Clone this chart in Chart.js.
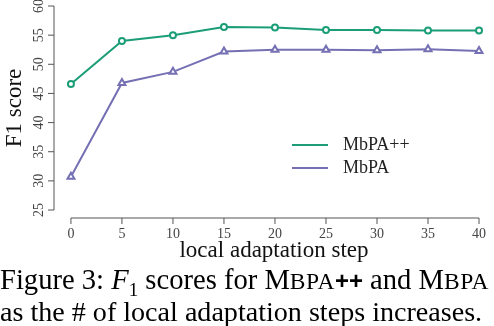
<!DOCTYPE html>
<html>
<head>
<meta charset="utf-8">
<script src="https://cdn.jsdelivr.net/npm/chart.js@4/dist/chart.umd.min.js"></script>
<style>
  body { margin: 0; background: #fff; }
  #wrap { position: relative; width: 494px; height: 326px; overflow: hidden; }
  #chart { position: absolute; left: 0; top: 0; }
  .cap { position: absolute; left: 0; font-family: "Liberation Serif", "Times New Roman", serif; font-size: 28.6px; line-height: 28px; color: #000; white-space: nowrap; }
  .sc { font-size: 23.5px; letter-spacing: 0.5px; }
  .pp { font-family: "Liberation Sans", sans-serif; font-weight: bold; font-size: 24px; }
</style>
</head>
<body>
<div id="wrap">
  <canvas id="chart" width="494" height="326"></canvas>
  <div class="cap" style="top:266px">Figure 3: <i>F</i><sub style="font-size:19px;line-height:0">1</sub> scores for M<span class="sc">BPA</span><span class="pp">++</span> and M<span class="sc">BPA</span></div>
  <div class="cap" style="top:298px;font-size:28.1px">as the # of local adaptation steps increases.</div>
</div>
<script>
// 横軸: local adaptation step
const steps = [0, 5, 10, 15, 20, 25, 30, 35, 40];
const mbpaPlusPlus = [46.6, 54.0, 55.0, 56.4, 56.3, 55.9, 55.9, 55.8, 55.8];
const mbpa = [30.7, 46.8, 48.7, 52.2, 52.5, 52.5, 52.4, 52.6, 52.3];
const yTicks = [25, 30, 35, 40, 45, 50, 55, 60];
const xTicks = [0, 5, 10, 15, 20, 25, 30, 35, 40];

const green = '#1b9e77';
const purple = '#7570b3';
const serif = '"Liberation Serif", "Times New Roman", serif';

// R風の軸と凡例を描くプラグイン
const rAxes = {
  id: 'rAxes',
  afterDraw(chart) {
    const ctx = chart.ctx;
    const xs = chart.scales.x, ys = chart.scales.y;
    ctx.save();
    ctx.strokeStyle = '#555';
    ctx.fillStyle = '#444';
    ctx.lineWidth = 1;

    // y軸
    const yAxisX = chart.chartArea.left;
    ctx.beginPath();
    ctx.moveTo(yAxisX, ys.getPixelForValue(yTicks[0]));
    ctx.lineTo(yAxisX, ys.getPixelForValue(yTicks[yTicks.length - 1]));
    ctx.stroke();
    ctx.font = '14px ' + serif;
    ctx.textAlign = 'center';
    ctx.textBaseline = 'middle';
    yTicks.forEach(v => {
      const py = ys.getPixelForValue(v);
      ctx.beginPath();
      ctx.moveTo(yAxisX, py);
      ctx.lineTo(yAxisX - 6, py);
      ctx.stroke();
      ctx.save();
      ctx.translate(yAxisX - 15, py);
      ctx.rotate(-Math.PI / 2);
      ctx.fillText(String(v), 0, 0);
      ctx.restore();
    });

    // x軸
    const xAxisY = chart.chartArea.bottom;
    ctx.beginPath();
    ctx.moveTo(xs.getPixelForValue(xTicks[0]), xAxisY);
    ctx.lineTo(xs.getPixelForValue(xTicks[xTicks.length - 1]), xAxisY);
    ctx.stroke();
    xTicks.forEach(v => {
      const px = xs.getPixelForValue(v);
      ctx.beginPath();
      ctx.moveTo(px, xAxisY);
      ctx.lineTo(px, xAxisY + 6);
      ctx.stroke();
      ctx.fillText(String(v), px, xAxisY + 16);
    });

    // 軸タイトル
    ctx.fillStyle = '#111';
    ctx.font = '23px ' + serif;
    ctx.fillText('local adaptation step', 274, 251);
    ctx.save();
    ctx.translate(15, 108);
    ctx.rotate(-Math.PI / 2);
    ctx.font = '23px ' + serif;
    ctx.fillText('F1 score', 0, 0);
    ctx.restore();

    // 凡例
    ctx.font = '18px ' + serif;
    ctx.textAlign = 'left';
    chart.data.datasets.forEach((ds, i) => {
      const ly = 145 + i * 23;
      ctx.strokeStyle = ds.borderColor;
      ctx.lineWidth = 2;
      ctx.beginPath();
      ctx.moveTo(292, ly);
      ctx.lineTo(328, ly);
      ctx.stroke();
      ctx.fillStyle = '#222';
      ctx.fillText(ds.label, 343, ly);
    });
    ctx.restore();
  }
};

new Chart(document.getElementById('chart').getContext('2d'), {
  type: 'line',
  data: {
    labels: steps,
    datasets: [
      {
        label: 'MbPA++',
        data: steps.map((s, i) => ({ x: s, y: mbpaPlusPlus[i] })),
        borderColor: green,
        backgroundColor: '#fff',
        borderWidth: 2,
        pointStyle: 'circle',
        pointRadius: 3,
        pointBorderWidth: 2,
      },
      {
        label: 'MbPA',
        data: steps.map((s, i) => ({ x: s, y: mbpa[i] })),
        borderColor: purple,
        backgroundColor: '#fff',
        borderWidth: 2,
        pointStyle: 'triangle',
        pointRadius: 4,
        pointBorderWidth: 2,
      },
    ],
  },
  options: {
    responsive: false,
    animation: false,
    layout: { padding: { left: 54, right: 4, top: 6, bottom: 108 } },
    plugins: { legend: { display: false }, tooltip: { enabled: false } },
    scales: {
      x: { type: 'linear', min: -1.66, max: 40.88, display: false },
      y: { min: 23.63, max: 60, display: false },
    },
  },
  plugins: [rAxes],
});
</script>
</body>
</html>
